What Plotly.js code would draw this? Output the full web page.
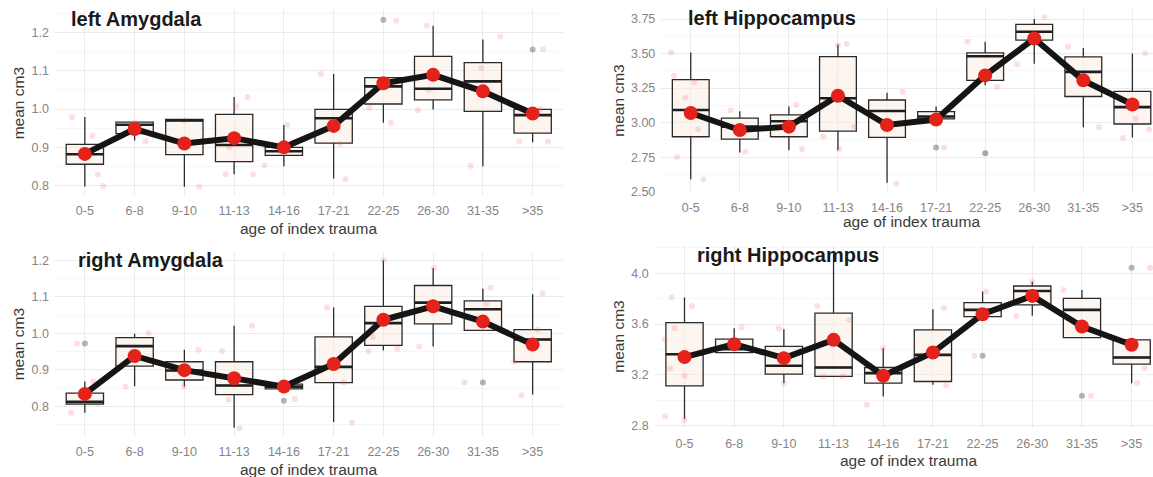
<!DOCTYPE html>
<html>
<head>
<meta charset="utf-8">
<script src="https://cdn.plot.ly/plotly-3.0.1.min.js"></script>
<style>
html,body{margin:0;padding:0;background:#fff;overflow:hidden;}
#chart{width:1153px;height:477px;}
</style>
</head>
<body>
<div id="chart"></div>
<script>
// ---------------- DATA ----------------
const categories = ['0-5','6-8','9-10','11-13','14-16','17-21','22-25','26-30','31-35','>35'];
const panelTitles = ['left Amygdala','left Hippocampus','right Amygdala','right Hippocampus'];
const xAxisTitle = 'age of index trauma';
const yAxisTitle = 'mean cm3';

// left Amygdala
const laQ1   = [0.856,0.936,0.881,0.863,0.879,0.911,1.013,1.024,0.994,0.937];
const laMed  = [0.882,0.959,0.970,0.906,0.890,0.976,1.059,1.053,1.072,0.984];
const laQ3   = [0.908,0.966,0.973,0.986,0.900,0.999,1.082,1.137,1.121,0.999];
const laLo   = [0.798,0.918,0.797,0.830,0.851,0.819,0.964,0.999,0.851,0.913];
const laHi   = [0.979,0.966,0.973,1.031,0.958,1.091,1.082,1.217,1.181,0.999];
const laMean = [0.883,0.948,0.910,0.924,0.900,0.956,1.067,1.089,1.046,0.988];
const laOutX = [6,9];
const laOutY = [1.233,1.155];
const laJitX = [-0.26,0.15,0.26,0.37, 1.22,1.0, 2.3,2.0, 2.83,3.04,3.27,3.38,2.9, 4.07,3.61, 4.74,5.24,5.13, 6.26,5.72,6.15, 6.87,6.69,6.91, 8.35,7.75,7.97, 9.21,8.73,9.31,9.15];
const laJitY = [0.979,0.930,0.829,0.799, 0.916,0.965, 0.797,0.970, 0.830,1.007,1.031,0.830,0.900, 0.958,0.853, 1.091,0.817,0.909, 1.230,1.003,0.964, 1.217,0.997,1.050, 1.189,0.852,1.106, 1.156,0.915,0.915,1.000];

// left Hippocampus
const lhQ1   = [2.898,2.881,2.898,2.939,2.894,3.027,3.306,3.597,3.189,2.990];
const lhMed  = [3.092,2.971,3.010,3.176,3.084,3.044,3.480,3.658,3.367,3.112];
const lhQ3   = [3.311,3.032,3.056,3.477,3.164,3.080,3.505,3.711,3.476,3.226];
const lhLo   = [2.590,2.784,2.800,2.800,2.565,3.027,3.270,3.427,2.966,2.893];
const lhHi   = [3.507,3.083,3.117,3.566,3.217,3.117,3.585,3.750,3.541,3.500];
const lhMean = [3.070,2.947,2.971,3.195,2.983,3.022,3.342,3.609,3.306,3.131];
const lhOutX = [5,6];
const lhOutY = [2.820,2.779];
const lhJitX = [-0.4,-0.34,-0.28,0.26,0.07,-0.11,0.15, 1.11,0.81, 2.15,2.27, 3.0,3.18,2.7,3.02,3.33, 4.32,4.19, 5.16, 5.64,6.24,6.01, 7.21,6.65, 7.69,8.32, 9.26,8.81,9.34,9.07];
const lhJitY = [3.507,3.340,2.750,2.590,3.290,3.180,2.950, 2.790,3.090, 3.128,2.810, 3.560,3.570,2.900,2.810,2.970, 3.224,2.560, 2.820, 3.585,3.260,2.780, 3.762,3.422, 3.549,2.966, 3.500,2.888,2.950,3.030];

// right Amygdala
const raQ1   = [0.806,0.910,0.872,0.832,0.848,0.865,0.967,1.026,1.008,0.922];
const raMed  = [0.812,0.965,0.898,0.857,0.854,0.908,1.028,1.084,1.066,0.983];
const raQ3   = [0.836,0.988,0.922,0.922,0.861,0.990,1.074,1.131,1.089,1.010];
const raLo   = [0.782,0.855,0.854,0.741,0.848,0.757,0.953,0.964,1.008,0.832];
const raHi   = [0.868,0.999,0.955,1.021,0.868,1.071,1.200,1.179,1.122,1.107];
const raMean = [0.834,0.938,0.899,0.877,0.854,0.916,1.037,1.074,1.032,0.969];
const raOutX = [0,4,8];
const raOutY = [0.972,0.815,0.865];
const raJitX = [-0.16,-0.28,0.17,0.25, 1.28,0.82, 2.28,1.99, 3.36,3.11,2.76,2.89, 4.22, 4.87,5.37,5.2, 6.01,5.7,6.28,5.79, 7.02,6.72, 8.15,7.63,8.07, 9.2,8.78,9.11,8.63];
const raJitY = [0.972,0.782,0.868,0.806, 1.000,0.854, 0.955,0.854, 1.021,0.740,0.951,0.818, 0.820, 1.071,0.755,0.865, 1.200,0.951,0.958,0.990, 1.179,0.964, 1.125,0.865,1.080, 1.109,0.830,1.010,0.922];

// right Hippocampus
const rhQ1   = [3.114,3.376,3.206,3.188,3.135,3.148,3.659,3.751,3.494,3.285];
const rhMed  = [3.362,3.403,3.272,3.258,3.214,3.358,3.712,3.861,3.712,3.337];
const rhQ3   = [3.612,3.481,3.424,3.686,3.258,3.555,3.769,3.900,3.803,3.476];
const rhLo   = [2.855,3.376,3.135,3.188,3.030,3.122,3.659,3.665,3.494,3.135];
const rhHi   = [3.809,3.568,3.560,4.150,3.410,3.717,3.856,3.934,3.869,3.476];
const rhMean = [3.340,3.442,3.332,3.476,3.193,3.376,3.678,3.822,3.581,3.437];
const rhOutX = [6,8,9];
const rhOutY = [3.350,3.036,4.044];
const rhJitX = [-0.26,-0.39,0,0.15,-0.2,0,-0.29,-0.4, 1.15, 1.9,2.0, 2.67,3.32,2.79,3.18, 3.67,4.0, 5.22,5.27, 5.84,6.07, 6.68,7.0, 8.18,7.63, 9.37,9.11,9.26];
const rhJitY = [3.810,2.873,2.847,3.743,3.568,3.193,3.250,3.480, 3.575, 3.568,3.135, 3.743,3.633,3.188,3.190, 2.965,3.410, 3.725,3.117, 3.350,3.856, 3.665,3.934, 3.036,3.869, 4.044,3.135,3.253];

// ---------------- LAYOUT (pixels) ----------------
const W = 1153, H = 477;
const FONT = 'Liberation Sans, Arial, sans-serif';
const panels = [
  {q1:laQ1,med:laMed,q3:laQ3,lo:laLo,hi:laHi,mean:laMean,ox:laOutX,oy:laOutY,jx:laJitX,jy:laJitY,
   px:[55,562.5], py:[10.06,195.3], xr:[-0.6,9.6], yr:[0.775,1.258], dt:0.1, fmt:'.1f',
   title:[69,19], ytitle:[18.3,103], xtitle:[308.5,228]},
  {q1:lhQ1,med:lhMed,q3:lhQ3,lo:lhLo,hi:lhHi,mean:lhMean,ox:lhOutX,oy:lhOutY,jx:lhJitX,jy:lhJitY,
   px:[661.3,1153], py:[9.05,192.7], xr:[-0.6,9.42], yr:[2.493,3.822], dt:0.25, fmt:'.2f',
   title:[686,18.5], ytitle:[617.7,101], xtitle:[911,221]},
  {q1:raQ1,med:raMed,q3:raQ3,lo:raLo,hi:raHi,mean:raMean,ox:raOutX,oy:raOutY,jx:raJitX,jy:raJitY,
   px:[55,562.5], py:[251.9,436.6], xr:[-0.6,9.6], yr:[0.717,1.223], dt:0.1, fmt:'.1f',
   title:[75.5,260.3], ytitle:[18.3,344], xtitle:[308.5,469.5]},
  {q1:rhQ1,med:rhMed,q3:rhQ3,lo:rhLo,hi:rhHi,mean:rhMean,ox:rhOutX,oy:rhOutY,jx:rhJitX,jy:rhJitY,
   px:[654.7,1153], py:[245.4,428.2], xr:[-0.6,9.43], yr:[2.78,4.22], dt:0.4, fmt:'.1f',
   title:[694.5,255], ytitle:[617.7,337], xtitle:[908,460]}
];

const BOXW = 0.75;
const traces = [];
const layout = {
  width: W, height: H,
  margin: {l:0,r:0,t:0,b:0,pad:0},
  paper_bgcolor:'#ffffff', plot_bgcolor:'#ffffff',
  showlegend:false,
  font:{family:FONT},
  annotations:[]
};

const idx = categories.map((c,i)=>i);

panels.forEach((p, k) => {
  const n = k===0 ? '' : String(k+1);
  const xa = 'x'+n, ya = 'y'+n;

  // jitter points
  traces.push({type:'scatter', mode:'markers', x:p.jx, y:p.jy, xaxis:xa, yaxis:ya,
    marker:{size:6, color:'rgba(240,95,95,0.2)'}, hoverinfo:'skip'});

  // boxes
  traces.push({type:'box', x:idx, q1:p.q1, median:p.med, q3:p.q3, lowerfence:p.lo, upperfence:p.hi,
    xaxis:xa, yaxis:ya, width:BOXW, whiskerwidth:0, boxpoints:false,
    fillcolor:'rgba(252,236,226,0.5)', line:{color:'#2a2a2a', width:1.3}, hoverinfo:'skip'});

  // thicker median segments
  const mx = [], my = [];
  p.med.forEach((m,i)=>{ mx.push(i-BOXW/2, i+BOXW/2, null); my.push(m, m, null); });
  traces.push({type:'scatter', mode:'lines', x:mx, y:my, xaxis:xa, yaxis:ya,
    line:{color:'#1f1f1f', width:2.6}, hoverinfo:'skip'});

  // outliers
  traces.push({type:'scatter', mode:'markers', x:p.ox, y:p.oy, xaxis:xa, yaxis:ya,
    marker:{size:6, color:'rgba(90,90,90,0.45)'}, hoverinfo:'skip'});

  // mean line + points
  traces.push({type:'scatter', mode:'lines+markers', x:idx, y:p.mean, xaxis:xa, yaxis:ya,
    line:{color:'#151515', width:6}, marker:{size:14, color:'#e3231b'}, hoverinfo:'skip'});

  layout['xaxis'+n] = {
    domain:[p.px[0]/W, p.px[1]/W], anchor:ya, range:p.xr,
    tickmode:'array', tickvals:idx, ticktext:categories,
    showgrid:true, gridcolor:'#ebebeb', gridwidth:1,
    zeroline:false, showline:false, ticks:'', ticklabelstandoff:6,
    tickfont:{family:FONT, size:12.5, color:'#858585'}, fixedrange:true
  };
  layout['yaxis'+n] = {
    domain:[1-p.py[1]/H, 1-p.py[0]/H], anchor:xa, range:p.yr,
    dtick:p.dt, tick0:0, tickformat:p.fmt,
    showgrid:true, gridcolor:'#ebebeb', gridwidth:1,
    minor:{showgrid:true, dtick:p.dt/2, tick0:0, gridcolor:'#f4f4f4', gridwidth:0.8},
    zeroline:false, showline:false, ticks:'', ticklabelstandoff:5,
    tickfont:{family:FONT, size:12.5, color:'#858585'}, fixedrange:true
  };

  layout.annotations.push({xref:'paper', yref:'paper', x:p.title[0]/W, y:1-p.title[1]/H,
    xanchor:'left', yanchor:'middle', showarrow:false, text:'<b>'+panelTitles[k]+'</b>',
    font:{family:FONT, size:20, color:'#1a1a1a'}});
  layout.annotations.push({xref:'paper', yref:'paper', x:p.ytitle[0]/W, y:1-p.ytitle[1]/H,
    xanchor:'center', yanchor:'middle', showarrow:false, text:yAxisTitle, textangle:-90,
    font:{family:FONT, size:15.5, color:'#3a3a3a'}});
  layout.annotations.push({xref:'paper', yref:'paper', x:p.xtitle[0]/W, y:1-p.xtitle[1]/H,
    xanchor:'center', yanchor:'middle', showarrow:false, text:xAxisTitle,
    font:{family:FONT, size:15.5, color:'#3a3a3a'}});
});

Plotly.newPlot('chart', traces, layout, {staticPlot:true, displayModeBar:false});
</script>
</body>
</html>
